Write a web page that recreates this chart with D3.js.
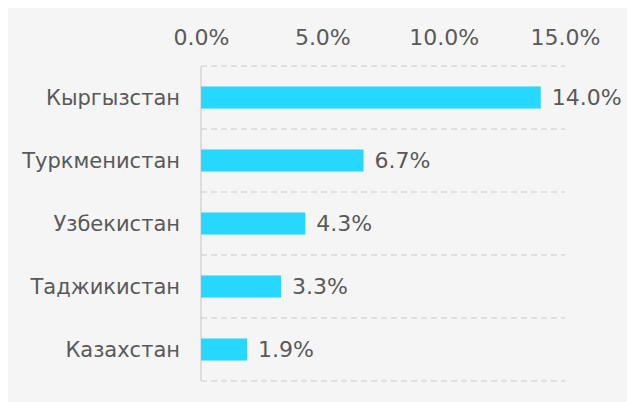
<!DOCTYPE html>
<html>
<head>
<meta charset="utf-8">
<script src="https://cdnjs.cloudflare.com/ajax/libs/d3/7.8.5/d3.min.js"></script>
<style>
    body { margin: 0; background: #fff; }
    text { font-family: "DejaVu Sans", Verdana, sans-serif; fill: #595959; }
</style>
</head>
<body>
<div id="chart-area"></div>
<script>
// Data
var countries = ["Кыргызстан", "Туркменистан", "Узбекистан", "Таджикистан", "Казахстан"];
var shares = [14.0, 6.7, 4.3, 3.3, 1.9];
var tickValues = [0, 5, 10, 15];

var W = 627, H = 402;
var plot = { left: 201, right: 565, top: 66, bottom: 381 };

var svg = d3.select("#chart-area")
    .append("svg")
        .attr("width", W)
        .attr("height", H);

// Panel background
svg.append("rect")
    .attr("x", 8)
    .attr("y", 8)
    .attr("width", W - 8)
    .attr("height", H - 8)
    .attr("fill", "#f5f5f5");

// Scales
var x = d3.scaleLinear()
    .domain([0, 15])
    .range([plot.left, plot.right]);

var y = d3.scaleBand()
    .domain(countries)
    .range([plot.top, plot.bottom])
    .paddingInner(0.65)
    .paddingOuter(0.325);

// Dashed separators between categories
var bounds = countries.map(function(d){ return y(d) - y.step() * y.paddingInner() / 2; });
bounds.push(plot.bottom);
svg.selectAll("line.grid")
    .data(bounds)
    .enter()
    .append("line")
        .attr("class", "grid")
        .attr("x1", plot.left)
        .attr("x2", plot.right)
        .attr("y1", function(d){ return d; })
        .attr("y2", function(d){ return d; })
        .attr("stroke", "#d9d9d9")
        .attr("stroke-width", 1.5)
        .attr("stroke-dasharray", "6,4");

// Y axis line
svg.append("line")
    .attr("x1", plot.left)
    .attr("x2", plot.left)
    .attr("y1", plot.top)
    .attr("y2", plot.bottom)
    .attr("stroke", "#d4d4d4")
    .attr("stroke-width", 1.5);

// Top axis
var fmt = d3.format(".1f");
var xAxisCall = d3.axisTop(x)
    .tickValues(tickValues)
    .tickSize(0)
    .tickPadding(0)
    .tickFormat(function(d){ return fmt(d) + "%"; });
var xAxisGroup = svg.append("g")
    .attr("transform", "translate(0,45)")
    .call(xAxisCall);
xAxisGroup.select(".domain").remove();
xAxisGroup.selectAll("text")
    .attr("font-size", "22px")
    .attr("font-family", null)
    .attr("fill", "#595959")
    .attr("dy", 0);

// Category labels
svg.selectAll("text.cat")
    .data(countries)
    .enter()
    .append("text")
        .attr("class", "cat")
        .attr("x", 180)
        .attr("y", function(d){ return y(d) + y.bandwidth() / 2; })
        .attr("dy", "0.36em")
        .attr("text-anchor", "end")
        .attr("font-size", "21px")
        .text(function(d){ return d; });

// Bars
svg.selectAll("rect.bar")
    .data(shares)
    .enter()
    .append("rect")
        .attr("class", "bar")
        .attr("x", x(0))
        .attr("y", function(d, i){ return y(countries[i]); })
        .attr("width", function(d){ return x(d) - x(0); })
        .attr("height", y.bandwidth())
        .attr("fill", "#26d7fe");

// Value labels
svg.selectAll("text.val")
    .data(shares)
    .enter()
    .append("text")
        .attr("class", "val")
        .attr("x", function(d){ return x(d) + 11; })
        .attr("y", function(d, i){ return y(countries[i]) + y.bandwidth() / 2; })
        .attr("dy", "0.36em")
        .attr("font-size", "22px")
        .attr("fill", "#454545")
        .text(function(d){ return fmt(d) + "%"; });
</script>
</body>
</html>
